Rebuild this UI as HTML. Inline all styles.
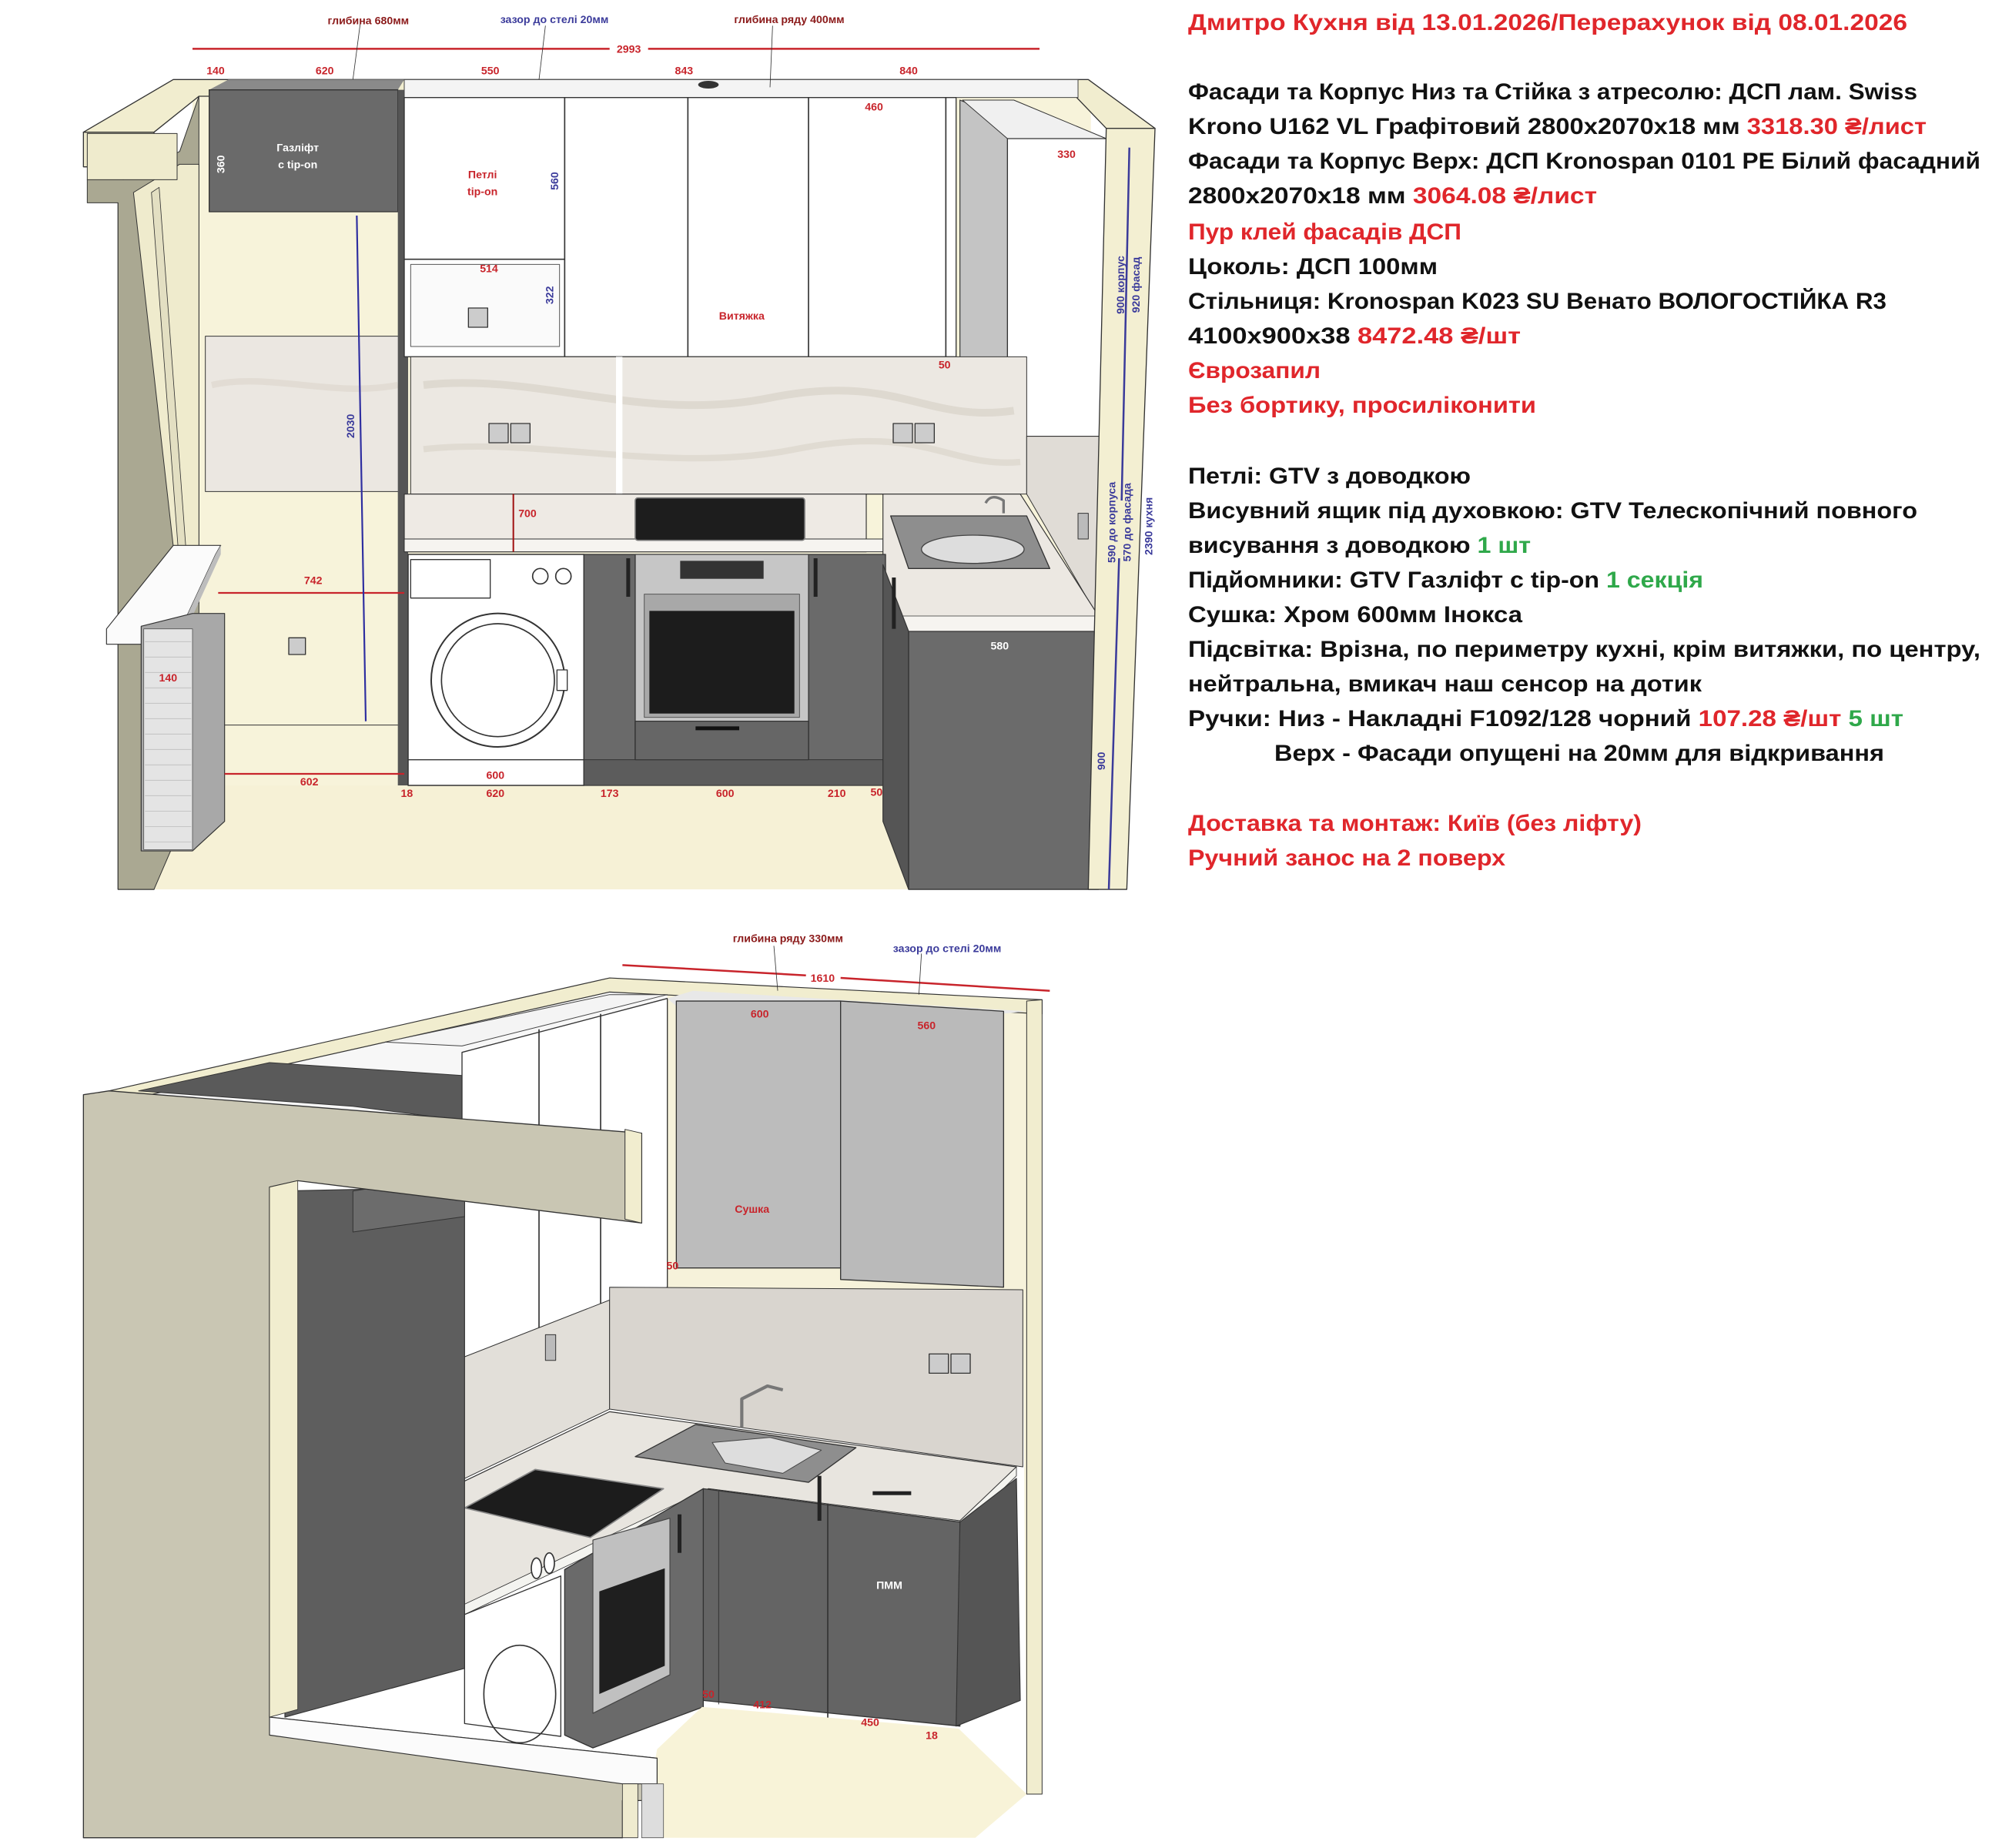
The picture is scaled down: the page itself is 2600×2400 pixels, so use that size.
<!DOCTYPE html>
<html><head><meta charset="utf-8"><style>
html,body{margin:0;padding:0;background:#fff;}
svg{display:block;}
text{font-family:"Liberation Sans","DejaVu Sans",sans-serif;font-weight:bold;}
</style></head><body>
<svg width="2600" height="2400" viewBox="0 0 2600 2400" xmlns="http://www.w3.org/2000/svg">
<rect width="2600" height="2400" fill="#fff"/>
<g transform="scale(1.6667)" stroke-linejoin="round">
<!-- ===== TOP VIEW ===== -->
<rect x="150" y="62" width="700" height="630" fill="#f7f3da"/>
<polygon points="160,612 855,612 878,693 92,693" fill="#f6f1d6"/>
<line x1="175" y1="565" x2="315" y2="565" stroke="#333" stroke-width="0.6"/>
<polygon points="65,103 135,62 848,62 900,100 862,100 838,75 155,75 120,103" fill="#f1edcf" stroke="#333" stroke-width="0.8"/>
<polygon points="65,103 120,103 120,693 92,693 92,130 65,130" fill="#efebcd" stroke="#333" stroke-width="0.8"/>
<polygon points="68,140 96,120 96,140 140,118 155,75 155,612 120,693 92,693 92,158 68,158" fill="#aaa892" stroke="#333" stroke-width="0.6"/>
<polygon points="104,150 140,128 155,128 155,470 140,470" fill="#efebcd" stroke="#333" stroke-width="0.6"/>
<polygon points="118,150 124,146 148,470 142,470" fill="#e3dfc2" stroke="#333" stroke-width="0.5"/>
<rect x="68" y="104" width="70" height="36" fill="#efebcd" stroke="#333" stroke-width="0.6"/>
<polygon points="83,490 135,425 172,425 168,432 140,492 140,502 83,502" fill="#fbfbfb" stroke="#333" stroke-width="0.7"/>
<polygon points="140,492 168,432 172,425 172,432 140,502" fill="#bdbdbd"/>
<polygon points="110,488 150,478 175,478 175,640 150,663 110,663" fill="#a8a8a8" stroke="#333" stroke-width="0.7"/>
<rect x="112" y="490" width="38" height="172" fill="#e4e4e4" stroke="#555" stroke-width="0.5"/>
<g stroke="#bbb" stroke-width="0.5">
<line x1="113" y1="500" x2="149" y2="500"/><line x1="113" y1="512" x2="149" y2="512"/><line x1="113" y1="524" x2="149" y2="524"/><line x1="113" y1="536" x2="149" y2="536"/><line x1="113" y1="548" x2="149" y2="548"/><line x1="113" y1="560" x2="149" y2="560"/><line x1="113" y1="572" x2="149" y2="572"/><line x1="113" y1="584" x2="149" y2="584"/><line x1="113" y1="596" x2="149" y2="596"/><line x1="113" y1="608" x2="149" y2="608"/><line x1="113" y1="620" x2="149" y2="620"/><line x1="113" y1="632" x2="149" y2="632"/><line x1="113" y1="644" x2="149" y2="644"/><line x1="113" y1="656" x2="149" y2="656"/>
</g>
<rect x="160" y="262" width="152" height="121" fill="#ebe7e1" stroke="#333" stroke-width="0.6"/>
<path d="M165,300 C210,290 260,310 310,300" stroke="#dcd6cc" stroke-width="5" fill="none" opacity="0.6"/>
<rect x="225" y="497" width="13" height="13" fill="#ccc" stroke="#333" stroke-width="0.8"/>
<polygon points="163,70 178,62 315,62 310,70" fill="#8a8a8a"/>
<rect x="163" y="70" width="147" height="95" fill="#6a6a6a" stroke="#333" stroke-width="0.8"/>
<rect x="310" y="70" width="8" height="542" fill="#555"/>
<rect x="315" y="62" width="525" height="14" fill="#f4f4f4" stroke="#444" stroke-width="0.6"/>
<ellipse cx="552" cy="66" rx="8" ry="3" fill="#333"/>
<rect x="315" y="76" width="430" height="202" fill="#fff" stroke="#333" stroke-width="0.8"/>
<line x1="440" y1="76" x2="440" y2="278" stroke="#333" stroke-width="1"/>
<line x1="536" y1="76" x2="536" y2="278" stroke="#333" stroke-width="1"/>
<line x1="630" y1="76" x2="630" y2="278" stroke="#333" stroke-width="1"/>
<line x1="737" y1="76" x2="737" y2="278" stroke="#333" stroke-width="1"/>
<line x1="315" y1="202" x2="440" y2="202" stroke="#333" stroke-width="1"/>
<rect x="320" y="206" width="116" height="64" fill="#fafafa" stroke="#555" stroke-width="0.6"/>
<rect x="365" y="240" width="15" height="15" fill="#ccc" stroke="#333" stroke-width="0.8"/>
<polygon points="748,78 790,95 790,340 775,340 748,300" fill="#c4c4c4" stroke="#333" stroke-width="0.7"/>
<polygon points="750,78 790,78 862,108 785,108" fill="#f0f0f0" stroke="#333" stroke-width="0.6"/>
<rect x="785" y="108" width="77" height="232" fill="#fff" stroke="#333" stroke-width="0.8"/>
<rect x="320" y="278" width="480" height="107" fill="#ece8e2" stroke="#333" stroke-width="0.6"/>
<path d="M330,300 C420,290 500,330 600,310 S720,330 790,320" stroke="#d6cfc4" stroke-width="6" fill="none" opacity="0.6"/>
<path d="M330,350 C420,340 520,370 620,350 S740,365 795,360" stroke="#d8d2c8" stroke-width="5" fill="none" opacity="0.6"/>
<rect x="480" y="278" width="5" height="107" fill="#fff"/>
<rect x="381" y="330" width="15" height="15" fill="#ccc" stroke="#333" stroke-width="0.8"/><rect x="398" y="330" width="15" height="15" fill="#ccc" stroke="#333" stroke-width="0.8"/>
<rect x="696" y="330" width="15" height="15" fill="#ccc" stroke="#333" stroke-width="0.8"/><rect x="713" y="330" width="15" height="15" fill="#ccc" stroke="#333" stroke-width="0.8"/>
<polygon points="800,340 862,340 858,480 855,480 800,385" fill="#e0dcd6" stroke="#333" stroke-width="0.6"/>
<rect x="840" y="400" width="8" height="20" fill="#bbb" stroke="#333" stroke-width="0.6"/>
<polygon points="315,385 675,385 675,430 315,430" fill="#eeeae4" stroke="#333" stroke-width="0.7"/>
<rect x="315" y="420" width="375" height="10" fill="#f6f4f0" stroke="#333" stroke-width="0.6"/>
<polygon points="675,385 795,385 856,480 856,490 705,492 688,440 688,385" fill="#ece8e2" stroke="#333" stroke-width="0.7"/>
<polygon points="693,480 856,480 856,492 705,492" fill="#f6f4f0" stroke="#333" stroke-width="0.5"/>
<rect x="495" y="388" width="132" height="33" rx="2" fill="#1d1d1d" stroke="#777" stroke-width="1"/>
<polygon points="694,402 800,402 818,443 708,443" fill="#8e8e8e" stroke="#333" stroke-width="0.8"/>
<ellipse cx="758" cy="428" rx="40" ry="11" fill="#ddd" stroke="#444" stroke-width="0.8"/>
<path d="M782,400 L782,390 Q772,384 768,392" stroke="#777" stroke-width="2" fill="none"/>
<line x1="400" y1="385" x2="400" y2="430" stroke="#a01010" stroke-width="1.2"/>
<rect x="318" y="432" width="137" height="180" fill="#fff" stroke="#333" stroke-width="0.9"/>
<rect x="320" y="436" width="62" height="30" fill="#fff" stroke="#333" stroke-width="0.8"/>
<circle cx="421" cy="449" r="6" fill="#fff" stroke="#333"/><circle cx="439" cy="449" r="6" fill="#fff" stroke="#333"/>
<line x1="318" y1="592" x2="455" y2="592" stroke="#333" stroke-width="0.8"/>
<circle cx="388" cy="530" r="52" fill="#fff" stroke="#333" stroke-width="1.2"/>
<circle cx="388" cy="530" r="44" fill="#fff" stroke="#333" stroke-width="1"/>
<rect x="434" y="522" width="8" height="16" fill="#fff" stroke="#333" stroke-width="0.8"/>
<rect x="455" y="432" width="235" height="180" fill="#6a6a6a" stroke="#333" stroke-width="0.8"/>
<rect x="455" y="592" width="235" height="20" fill="#5c5c5c" stroke="#333" stroke-width="0.6"/>
<line x1="495" y1="432" x2="495" y2="592" stroke="#333"/><line x1="630" y1="432" x2="630" y2="592" stroke="#333"/>
<rect x="488" y="435" width="3" height="30" fill="#222"/><rect x="634" y="435" width="3" height="30" fill="#222"/>
<rect x="495" y="432" width="135" height="130" fill="#c6c6c6" stroke="#444" stroke-width="0.8"/>
<rect x="530" y="437" width="65" height="14" fill="#333"/>
<rect x="502" y="463" width="121" height="96" fill="#a8a8a8" stroke="#555" stroke-width="0.6"/>
<rect x="506" y="476" width="113" height="80" fill="#1c1c1c"/>
<rect x="495" y="562" width="135" height="30" fill="#666" stroke="#333" stroke-width="0.7"/>
<rect x="542" y="566" width="34" height="3" fill="#111"/>
<polygon points="688,440 708,492 708,693 688,640" fill="#555" stroke="#333" stroke-width="0.7"/>
<rect x="708" y="492" width="148" height="201" fill="#6b6b6b" stroke="#333" stroke-width="0.8"/>
<rect x="695" y="450" width="3" height="40" fill="#222"/>
<polygon points="862,100 900,100 878,693 848,693" fill="#f3efd2" stroke="#333" stroke-width="0.8"/>
<line x1="150" y1="38" x2="475" y2="38" stroke="#c8242b" stroke-width="1.5"/>
<line x1="505" y1="38" x2="810" y2="38" stroke="#c8242b" stroke-width="1.5"/>
<line x1="170" y1="462" x2="315" y2="462" stroke="#c8242b" stroke-width="1.3"/>
<line x1="175" y1="603" x2="315" y2="603" stroke="#c8242b" stroke-width="1.3"/>
<line x1="278" y1="168" x2="285" y2="562" stroke="#2e2ea0" stroke-width="1.3"/>
<line x1="880" y1="115" x2="874" y2="390" stroke="#3a3a9a" stroke-width="1.5"/>
<line x1="872" y1="435" x2="864" y2="693" stroke="#3a3a9a" stroke-width="1.5"/>
<line x1="281" y1="16" x2="275" y2="62" stroke="#333" stroke-width="0.5"/>
<line x1="425" y1="20" x2="420" y2="62" stroke="#333" stroke-width="0.5"/>
<line x1="602" y1="20" x2="600" y2="68" stroke="#333" stroke-width="0.5"/>
<g font-size="8.5" text-anchor="middle">
<text x="287" y="19" fill="#8b1a1a">глибина 680мм</text>
<text x="432" y="18" fill="#3b3b9b">зазор до стелі 20мм</text>
<text x="615" y="18" fill="#8b1a1a">глибина ряду 400мм</text>
<text x="490" y="41" fill="#c8242b">2993</text>
<g fill="#c8242b">
<text x="168" y="58">140</text><text x="253" y="58">620</text><text x="382" y="58">550</text><text x="533" y="58">843</text><text x="708" y="58">840</text>
<text x="681" y="86">460</text><text x="831" y="123">330</text><text x="381" y="212">514</text>
<text x="376" y="139">Петлі</text><text x="376" y="152">tip-on</text>
<text x="578" y="249">Витяжка</text><text x="736" y="287">50</text>
<text x="411" y="403">700</text><text x="244" y="455">742</text><text x="131" y="531">140</text>
<text x="241" y="612">602</text><text x="386" y="607">600</text><text x="386" y="621">620</text>
<text x="317" y="621">18</text><text x="475" y="621">173</text><text x="565" y="621">600</text><text x="652" y="621">210</text><text x="683" y="620">50</text>
</g>
<text x="232" y="118" fill="#fff">Газліфт</text><text x="232" y="131" fill="#fff">с tip-on</text>
<text x="779" y="506" fill="#fff">580</text>
<text transform="translate(175,128) rotate(-90)" fill="#fff">360</text>
<g fill="#3b3b9b">
<text transform="translate(435,141) rotate(-90)">560</text>
<text transform="translate(431,230) rotate(-90)">322</text>
<text transform="translate(276,332) rotate(-90)">2030</text>
<text transform="translate(861,593) rotate(-90)">900</text>
<text transform="translate(876,222) rotate(-90)">900 корпус</text>
<text transform="translate(888,222) rotate(-90)">920 фасад</text>
<text transform="translate(869,407) rotate(-90)">590 до корпуса</text>
<text transform="translate(881,407) rotate(-90)">570 до фасада</text>
<text transform="translate(898,410) rotate(-90)">2390 кухня</text>
</g>
</g>

<!-- ===== BOTTOM VIEW ===== -->
<polygon points="475,762 812,779 812,1398 800,1398 797,1005 475,1003" fill="#f6f2da"/>
<!-- region above beam: cabinet tops -->
<polygon points="85,850 475,762 520,775 520,1003 360,1058 360,900" fill="#f7f7f7"/>
<polygon points="85,850 475,762 812,779 812,790 475,773 108,855" fill="#f1edcf" stroke="#333" stroke-width="0.7"/>
<polygon points="300,812 475,775 520,775 360,815" fill="#f4f4f4" stroke="#444" stroke-width="0.6"/>
<polygon points="108,850 210,828 360,838 360,873 275,862" fill="#5a5a5a" stroke="#333" stroke-width="0.6"/>
<polygon points="360,820 520,778 520,1003 360,1058" fill="#fff" stroke="#333" stroke-width="0.8"/>
<line x1="420" y1="802" x2="420" y2="1038" stroke="#333"/><line x1="468" y1="790" x2="468" y2="1020" stroke="#333"/>
<polygon points="520,778 540,772 800,788 780,790 780,1002" fill="#e8e8e8"/>
<rect x="527" y="780" width="128" height="208" fill="#bcbcbc" stroke="#333" stroke-width="0.8"/>
<polygon points="655,780 782,788 782,1003 655,997" fill="#bababa" stroke="#333" stroke-width="0.8"/>
<polygon points="360,1058 475,1013 475,1098 360,1153" fill="#e2dfd9" stroke="#333" stroke-width="0.6"/>
<polygon points="475,1003 797,1005 797,1143 475,1098" fill="#d9d5cf" stroke="#333" stroke-width="0.6"/>
<rect x="425" y="1040" width="8" height="20" fill="#bbb" stroke="#333" stroke-width="0.6"/>
<rect x="724" y="1055" width="15" height="15" fill="#ccc" stroke="#333" stroke-width="0.8"/><rect x="741" y="1055" width="15" height="15" fill="#ccc" stroke="#333" stroke-width="0.8"/>
<polygon points="360,1155 475,1100 792,1143 748,1185 552,1160 362,1258" fill="#e8e5df" stroke="#333" stroke-width="0.7"/>
<polygon points="748,1185 792,1143 792,1150 748,1193" fill="#f4f4f0" stroke="#333" stroke-width="0.5"/>
<polygon points="552,1160 748,1185 748,1193 552,1168" fill="#f4f4f0" stroke="#333" stroke-width="0.5"/>
<polygon points="362,1250 552,1160 552,1168 362,1258" fill="#f4f4f0" stroke="#333" stroke-width="0.5"/>
<polygon points="362,1175 417,1145 517,1160 460,1198" fill="#1c1c1c" stroke="#888" stroke-width="1"/>
<polygon points="495,1135 542,1110 667,1128 630,1155" fill="#8e8e8e" stroke="#333" stroke-width="0.8"/>
<polygon points="555,1124 600,1120 640,1130 610,1148 565,1140" fill="#ddd" stroke="#444" stroke-width="0.6"/>
<path d="M578,1112 L578,1090 L598,1080 L610,1083" stroke="#777" stroke-width="2.5" fill="none"/>
<polygon points="548,1160 748,1186 748,1345 548,1325" fill="#646464" stroke="#333" stroke-width="0.8"/>
<line x1="645" y1="1172" x2="645" y2="1340" stroke="#333"/>
<line x1="560" y1="1162" x2="560" y2="1328" stroke="#333" stroke-width="0.6"/>
<rect x="637" y="1150" width="3" height="35" fill="#222"/><rect x="680" y="1162" width="30" height="3" fill="#222"/>
<polygon points="748,1186 792,1152 795,1325 745,1345" fill="#555" stroke="#333" stroke-width="0.7"/>
<polygon points="440,1223 548,1160 548,1330 462,1362 440,1352" fill="#6a6a6a" stroke="#333" stroke-width="0.8"/>
<polygon points="462,1200 522,1183 522,1305 462,1335" fill="#c0c0c0" stroke="#444" stroke-width="0.7"/>
<polygon points="467,1240 518,1222 518,1298 467,1320" fill="#1f1f1f"/>
<rect x="528" y="1180" width="3" height="30" fill="#222"/>
<polygon points="362,1258 437,1228 437,1353 362,1343" fill="#fff" stroke="#333" stroke-width="0.8"/>
<ellipse cx="405" cy="1320" rx="28" ry="38" fill="none" stroke="#333" stroke-width="1"/>
<ellipse cx="418" cy="1222" rx="4" ry="8" fill="#fff" stroke="#333"/><ellipse cx="428" cy="1218" rx="4" ry="8" fill="#fff" stroke="#333"/>
<polygon points="222,928 362,925 362,1300 222,1338" fill="#5e5e5e" stroke="#333" stroke-width="0.7"/>
<polygon points="275,928 362,915 362,948 275,960" fill="#6c6c6c" stroke="#333" stroke-width="0.6"/>
<polygon points="512,1363 547,1330 747,1347 800,1398 760,1432 500,1432" fill="#f8f3d8"/>
<polygon points="65,853 85,850 500,883 500,953 232,920 210,925 210,1338 512,1370 512,1403 485,1403 485,1432 65,1432" fill="#c9c6b3" stroke="#333" stroke-width="0.8"/>
<polygon points="487,880 500,883 500,953 487,950" fill="#f1edcf" stroke="#333" stroke-width="0.6"/>
<polygon points="210,925 232,920 232,1332 210,1338" fill="#f1edcf" stroke="#333" stroke-width="0.5"/>
<polygon points="210,1338 512,1370 512,1390 485,1390 210,1352" fill="#fbfbfb" stroke="#333" stroke-width="0.7"/>
<rect x="485" y="1390" width="12" height="42" fill="#efebcf" stroke="#333" stroke-width="0.5"/>
<rect x="500" y="1390" width="17" height="42" fill="#ddd" stroke="#555" stroke-width="0.5"/>
<polygon points="800,780 812,779 812,1398 800,1398" fill="#f1edcf" stroke="#333" stroke-width="0.6"/>
<line x1="485" y1="752" x2="628" y2="760" stroke="#c8242b" stroke-width="1.5"/>
<line x1="655" y1="762" x2="818" y2="772" stroke="#c8242b" stroke-width="1.5"/>
<line x1="603" y1="737" x2="606" y2="772" stroke="#333" stroke-width="0.5"/>
<line x1="718" y1="743" x2="716" y2="775" stroke="#333" stroke-width="0.5"/>
<g font-size="8.5" text-anchor="middle">
<text x="614" y="734" fill="#8b1a1a">глибина ряду 330мм</text>
<text x="738" y="742" fill="#3b3b9b">зазор до стелі 20мм</text>
<g fill="#c8242b">
<text x="641" y="765">1610</text><text x="592" y="793">600</text><text x="722" y="802">560</text>
<text x="586" y="945">Сушка</text><text x="524" y="989">50</text>
<text x="552" y="1323">50</text><text x="594" y="1331">412</text><text x="678" y="1345">450</text><text x="726" y="1355">18</text>
</g>
<text x="693" y="1238" fill="#fff">ПММ</text>
</g>
</g>

<!-- ===== TEXT BLOCK ===== -->
<g font-size="30">
<text x="1543" y="39" textLength="934" lengthAdjust="spacingAndGlyphs" fill="#e0262b">Дмитро Кухня від 13.01.2026/Перерахунок від 08.01.2026</text>
<text x="1543" y="129" textLength="947" lengthAdjust="spacingAndGlyphs" fill="#111">Фасади та Корпус Низ та Стійка з атресолю: ДСП лам. Swiss</text>
<text x="1543" y="174" textLength="959" lengthAdjust="spacingAndGlyphs" fill="#111">Krono U162 VL Графітовий 2800x2070x18 мм <tspan fill="#e0262b">3318.30 ₴/лист</tspan></text>
<text x="1543" y="219" textLength="1029" lengthAdjust="spacingAndGlyphs" fill="#111">Фасади та Корпус Верх: ДСП Kronospan 0101 PE Білий фасадний</text>
<text x="1543" y="264" textLength="531" lengthAdjust="spacingAndGlyphs" fill="#111">2800x2070x18 мм <tspan fill="#e0262b">3064.08 ₴/лист</tspan></text>
<text x="1543" y="311" textLength="355" lengthAdjust="spacingAndGlyphs" fill="#e0262b">Пур клей фасадів ДСП</text>
<text x="1543" y="356" textLength="324" lengthAdjust="spacingAndGlyphs" fill="#111">Цоколь: ДСП 100мм</text>
<text x="1543" y="401" textLength="907" lengthAdjust="spacingAndGlyphs" fill="#111">Стільниця: Kronospan K023 SU Венато ВОЛОГОСТІЙКА R3</text>
<text x="1543" y="446" textLength="432" lengthAdjust="spacingAndGlyphs" fill="#111">4100x900x38  <tspan fill="#e0262b">8472.48 ₴/шт</tspan></text>
<text x="1543" y="491" textLength="172" lengthAdjust="spacingAndGlyphs" fill="#e0262b">Єврозапил</text>
<text x="1543" y="536" textLength="452" lengthAdjust="spacingAndGlyphs" fill="#e0262b">Без бортику, просиліконити</text>
<text x="1543" y="628" textLength="367" lengthAdjust="spacingAndGlyphs" fill="#111">Петлі: GTV з доводкою</text>
<text x="1543" y="673" textLength="947" lengthAdjust="spacingAndGlyphs" fill="#111">Висувний ящик під духовкою: GTV Телескопічний повного</text>
<text x="1543" y="718" textLength="445" lengthAdjust="spacingAndGlyphs" fill="#111">висування з доводкою <tspan fill="#2fa84a">1 шт</tspan></text>
<text x="1543" y="763" textLength="669" lengthAdjust="spacingAndGlyphs" fill="#111">Підйомники: GTV Газліфт с tip-on <tspan fill="#2fa84a">1 секція</tspan></text>
<text x="1543" y="808" textLength="434" lengthAdjust="spacingAndGlyphs" fill="#111">Сушка: Хром 600мм Інокса</text>
<text x="1543" y="853" textLength="1029" lengthAdjust="spacingAndGlyphs" fill="#111">Підсвітка: Врізна, по периметру кухні, крім витяжки, по центру,</text>
<text x="1543" y="898" textLength="667" lengthAdjust="spacingAndGlyphs" fill="#111">нейтральна, вмикач наш сенсор на дотик</text>
<text x="1543" y="943" textLength="929" lengthAdjust="spacingAndGlyphs" fill="#111">Ручки: Низ - Накладні F1092/128 чорний <tspan fill="#e0262b">107.28 ₴/шт</tspan> <tspan fill="#2fa84a">5 шт</tspan></text>
<text x="1655" y="988" textLength="792" lengthAdjust="spacingAndGlyphs" fill="#111">Верх - Фасади опущені на 20мм для відкривання</text>
<text x="1543" y="1079" textLength="589" lengthAdjust="spacingAndGlyphs" fill="#e0262b">Доставка та монтаж: Київ (без ліфту)</text>
<text x="1543" y="1124" textLength="412" lengthAdjust="spacingAndGlyphs" fill="#e0262b">Ручний занос на 2 поверх</text>
</g>
</svg>
</body></html>
